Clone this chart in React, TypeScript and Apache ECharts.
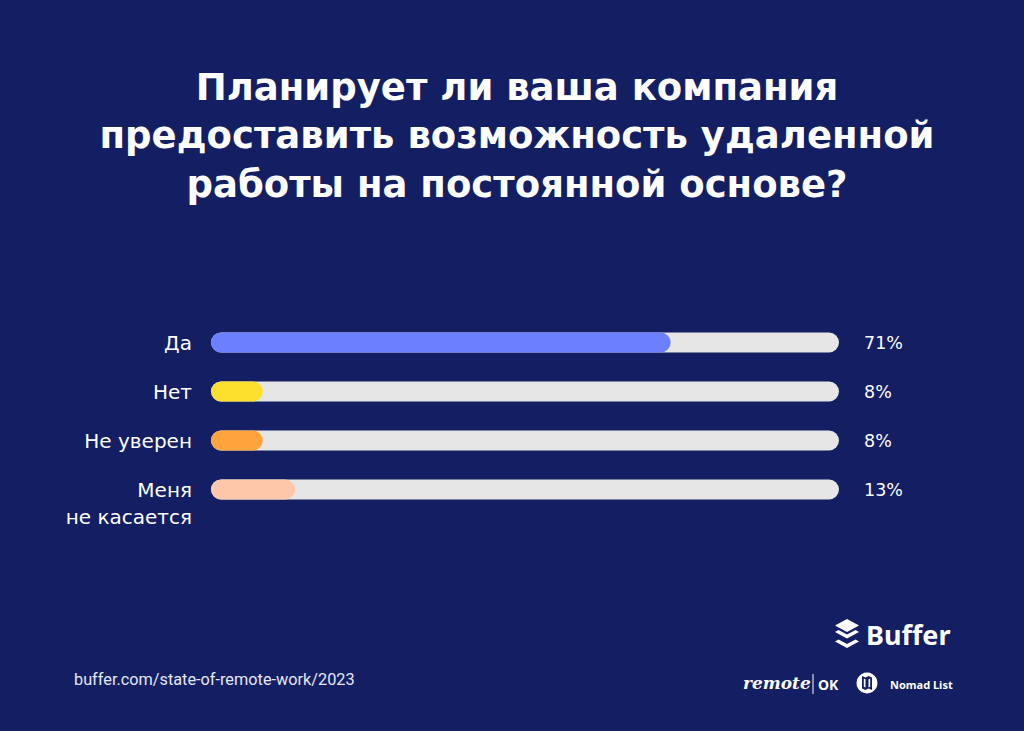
import React, { useEffect, useRef } from "react";
import * as echarts from "echarts";

const titleLines = [
  "Планирует ли ваша компания",
  "предоставить возможность удаленной",
  "работы на постоянной основе?",
];
const categories = ["Да", "Нет", "Не уверен", "Меня\nне касается"];
const values = [71, 8, 8, 13];
const barColors = ["#6b7fff", "#fde02d", "#ffa43c", "#ffc7aa"];
const valueLabels = values.map((v) => v + "%");
const sourceText = "buffer.com/state-of-remote-work/2023";

const BG = "#131e63";

export default function App() {
  const ref = useRef<HTMLDivElement>(null);
  useEffect(() => {
    document.body.style.margin = "0";
    const chart = echarts.init(ref.current!, undefined, { renderer: "svg" });
    chart.setOption({
      animation: false,
      backgroundColor: BG,
      title: {
        text: titleLines.join("\n"),
        left: 512,
        top: 58,
        textAlign: "center",
        textStyle: {
          color: "#ffffff",
          fontFamily: "DejaVu Sans",
          fontWeight: "bold",
          fontSize: 37,
          lineHeight: 48.5,
        },
      },
      grid: { left: 211, right: 185, top: 318, height: 196 },
      xAxis: {
        type: "value",
        min: 0,
        max: 97,
        show: false,
      },
      yAxis: [
        {
          type: "category",
          data: categories,
          inverse: true,
          position: "left",
          axisLine: { show: false },
          axisTick: { show: false },
          axisLabel: {
            interval: 0,
            hideOverlap: false,
            color: "#ffffff",
            fontFamily: "DejaVu Sans",
            fontSize: 20,
            lineHeight: 27,
            margin: 19,
            formatter: (v: string) => (v.indexOf("\n") >= 0 ? " \n" + v : v),
          },
        },
        {
          type: "category",
          data: valueLabels,
          inverse: true,
          position: "right",
          axisLine: { show: false },
          axisTick: { show: false },
          axisLabel: {
            interval: 0,
            color: "#ffffff",
            fontFamily: "DejaVu Sans",
            fontSize: 17.5,
            margin: 25,
            align: "left",
          },
        },
      ],
      series: [
        {
          type: "bar",
          yAxisIndex: 0,
          barWidth: 20,
          data: values.map((v, i) => ({
            value: v,
            itemStyle: { color: barColors[i], borderRadius: 10 },
          })),
          showBackground: true,
          backgroundStyle: { color: "#e6e6e6", borderRadius: 10 },
        },
      ],
      graphic: [
        {
          type: "text",
          left: 74,
          top: 671,
          style: {
            text: sourceText,
            fill: "#e4e7f3",
            font: "16.3px Roboto",
          },
        },
        // Buffer logo
        {
          type: "group",
          children: [
            {
              type: "polygon",
              shape: { points: [[847, 619], [859, 625.5], [847, 632], [835, 625.5]] },
              style: { fill: "#ffffff" },
            },
            {
              type: "polygon",
              shape: { points: [[835, 632], [838.5, 630], [847, 634.5], [855.5, 630], [859, 632], [847, 638.5]] },
              style: { fill: "#ffffff" },
            },
            {
              type: "polygon",
              shape: { points: [[835, 641.5], [838.5, 639.5], [847, 644], [855.5, 639.5], [859, 641.5], [847, 648]] },
              style: { fill: "#ffffff" },
            },
            {
              type: "text",
              x: 866,
              y: 634,
              style: {
                text: "Buffer",
                fill: "#ffffff",
                font: "bold 27px 'Noto Sans'",
                verticalAlign: "middle",
              },
            },
          ],
        },
        // remote | OK
        {
          type: "text",
          x: 743,
          y: 683,
          style: {
            text: "remote",
            fill: "#ffffff",
            font: "italic bold 17px 'DejaVu Serif'",
            verticalAlign: "middle",
          },
        },
        {
          type: "line",
          shape: { x1: 813, y1: 674, x2: 813, y2: 694 },
          style: { stroke: "#ffffff", lineWidth: 1 },
        },
        {
          type: "text",
          x: 818,
          y: 684,
          style: {
            text: "OK",
            fill: "#ffffff",
            font: "bold 14px 'Noto Sans'",
            verticalAlign: "middle",
          },
        },
        // Nomad List
        {
          type: "circle",
          shape: { cx: 867, cy: 683, r: 10.5 },
          style: { fill: "#ffffff" },
        },
        {
          type: "polygon",
          shape: { points: [[862, 676], [865.5, 677.5], [868.5, 676], [872, 677.5], [872, 690], [868.5, 688.5], [865.5, 690], [862, 688.5]] },
          style: { fill: BG },
        },
        {
          type: "polygon",
          shape: { points: [[863.8, 678.5], [865.5, 679.3], [865.5, 687.5], [863.8, 686.7]] },
          style: { fill: "#ffffff" },
        },
        {
          type: "polygon",
          shape: { points: [[868.5, 679.3], [870.2, 678.5], [870.2, 686.7], [868.5, 687.5]] },
          style: { fill: "#ffffff" },
        },
        {
          type: "text",
          x: 890,
          y: 684,
          style: {
            text: "Nomad List",
            fill: "#ffffff",
            font: "bold 11px 'Noto Sans'",
            verticalAlign: "middle",
          },
        },
      ],
    });
    return () => chart.dispose();
  }, []);
  return (
    <div
      ref={ref}
      style={{ position: "absolute", left: 0, top: 0, width: 1024, height: 731 }}
    />
  );
}
